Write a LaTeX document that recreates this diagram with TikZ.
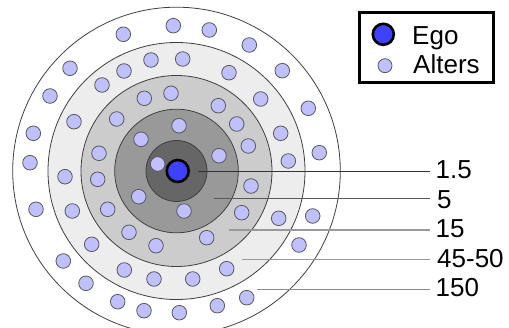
\documentclass[tikz,border=0pt]{standalone}
\usepackage{fontspec}
\setmainfont{Liberation Sans}
\begin{document}
\begin{tikzpicture}[x=1pt,y=-1pt,
  ring/.style={draw=black!75,line width=0.8pt},
  alter/.style={circle,draw=black!65,fill=altc,line width=0.8pt,minimum size=14.6pt,inner sep=0pt},
  ego/.style={circle,draw=black,fill=egoc,line width=2.6pt,minimum size=22pt,inner sep=0pt},
  lbl/.style={anchor=base west,inner sep=0pt,font=\fontsize{26}{30}\selectfont},
  lline/.style={line width=1.2pt}]
\definecolor{altc}{RGB}{192,192,255}
\definecolor{egoc}{RGB}{64,64,255}
\useasboundingbox (0,0) rectangle (509,328);
\fill[white] (0,0) rectangle (509,328);
% layers
\coordinate (c) at (176.5,171);
\draw[ring,fill=white] (c) circle (163.8);
\draw[ring,fill=black!7] (c) circle (128.5);
\draw[ring,fill=black!20] (c) circle (95.5);
\draw[ring,fill=black!40] (c) circle (61.8);
\draw[ring,fill=black!60] (c) circle (30.5);
% alters
\foreach \i/\x/\y in {1/123.3/34.3,2/173.3/25.7,3/209.3/30,4/249.3/45,5/70/68.3,6/282.3/70.7,7/50/96,8/308.3/108.3,9/33.3/133.3,10/319.3/152.7,11/30/162.7,12/36/209.3,13/312.7/216,14/299/245,15/63.3/261,16/86/283.3,17/117.7/301.7,18/144/310.7,19/179.3/312.7,20/217.3/305.7,21/246.7/297.7,
22/151/60,23/182.7/59,24/124/71,25/229/72.7,26/102/85,27/260.7/99,28/74/121.7,29/280.7/133.3,30/288.3/161,31/65/176.7,32/72.3/211,33/278.7/218.3,34/91.7/244.3,35/124.3/270,36/154/279,37/192.7/279,38/226.7/268.7,
39/144.3/98.3,40/171/93.3,41/116.7/119,42/218.3/105.7,43/236.7/124,44/248.3/146,45/99/153.3,46/97.7/179.3,47/251/186,48/107.7/209.3,49/241.7/212.7,50/129/232.3,51/156/245.7,52/206.7/237.7,
53/179/125.7,54/141/139.3,55/219/155.7,56/138.7/196.7,57/184/211,58/157.7/164}
  \node[alter] (a\i) at (\x,\y) {};
\node[ego] (ego) at (177.7,171) {};
% label lines
\coordinate (s1) at (198,171.3);  \coordinate (e1) at (430,171.3);
\coordinate (s2) at (214,198.3);  \coordinate (e2) at (430,198.3);
\coordinate (s3) at (229.3,230);  \coordinate (e3) at (430,230);
\coordinate (s4) at (242.3,259.3);\coordinate (e4) at (430,259.3);
\coordinate (s5) at (257.3,289.3);\coordinate (e5) at (430,289.3);
\draw[lline,draw=black!80] (s1) -- (e1);
\draw[lline,draw=black!65] (s2) -- (e2);
\draw[lline,draw=black!40] (s3) -- (e3);
\draw[lline,draw=black!40] (s4) -- (e4);
\draw[lline,draw=black!45] (s5) -- (e5);
\node[lbl] (l1) at (435.5,178.3) {1.5};
\node[lbl] (l2) at (437,208.3) {5};
\node[lbl] (l3) at (435.5,237.3) {15};
\node[lbl] (l4) at (437,267.3) {45-50};
\node[lbl] (l5) at (435.5,296.7) {150};
% legend
\node[draw=black,line width=3pt,fill=white,minimum width=134pt,minimum height=70pt,inner sep=0pt] (leg) at (426.2,47.3) {};
\node[ego,minimum size=21pt] (lego) at (383.3,34.3) {};
\node[alter,minimum size=14pt] (lalt) at (385,65.7) {};
\node[lbl] (tego) at (412,45) {Ego};
\node[lbl] (talt) at (413,74) {Alters};
\end{tikzpicture}
\end{document}
